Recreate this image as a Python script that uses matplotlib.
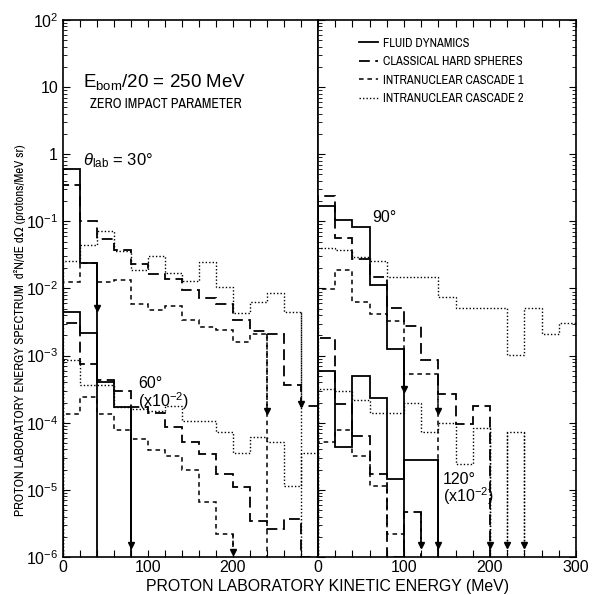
import numpy as np
import matplotlib
matplotlib.use("Agg")
import matplotlib.pyplot as plt
from matplotlib import font_manager as fm

# bin width of all the histograms (MeV)
bin_w = 20

# ---- theta_lab = 30 deg (left panel, upper group)
fluid_30 = [0.60, 0.024]
hs_30 = [0.345, 0.100, 0.055, 0.037, 0.023, 0.0164, 0.0139, 0.0094, 0.0072,
         0.0058, 0.0034, 0.0023, 0.0021, 3.6e-4, 1.8e-4]
inc1_30 = [0.0123, 0.024, 0.0125, 0.0135, 0.0059, 0.0047, 0.0055, 0.0034,
           0.0027, 0.0024, 0.0016, 0.0021]
inc2_30 = [0.026, 0.044, 0.073, 0.036, 0.019, 0.030, 0.017, 0.013, 0.025,
           0.0107, 0.0043, 0.0062, 0.0085, 0.0044]

# ---- theta_lab = 60 deg (x 1e-2)
fluid_60 = [0.0044, 0.0022, 4.0e-4, 1.7e-4]
hs_60 = [0.0031, 7.5e-4, 4.3e-4, 3.0e-4, 1.74e-4, 1.4e-4, 8.5e-5, 5.2e-5,
         3.4e-5, 1.7e-5, 1.1e-5, 3.4e-6, 2.6e-6, 3.7e-6, 1e-6]
inc1_60 = [1.35e-4, 2.45e-4, 1.35e-4, 7.8e-5, 5.8e-5, 3.9e-5, 3.2e-5, 1.95e-5,
           6.5e-6, 2.2e-6]
inc2_60 = [8.7e-4, 3.7e-4, 3.6e-4, 1.7e-4, 1.6e-4, 1.5e-4, 1.8e-4, 1.05e-4,
           1.05e-4, 7.2e-5, 3.6e-5, 6.2e-5, 5.1e-5, 1.15e-5, 3.6e-5]

# ---- theta_lab = 90 deg (right panel, upper group)
fluid_90 = [0.17, 0.105, 0.083, 0.0114, 0.00126]
hs_90 = [0.235, 0.057, 0.0276, 0.0147, 0.0051, 0.0028, 8.6e-4, 2.7e-4,
         9.6e-5, 1.76e-4]
inc1_90 = [0.0098, 0.019, 0.0062, 0.0042, 0.0033, 5.3e-4, 5.3e-4]
inc2_90 = [0.040, 0.0375, 0.029, 0.026, 0.0147, 0.0147, 0.0147, 0.0074,
           0.0052, 0.0052, 0.0052, 0.00103, 0.0051, 0.0021, 0.0031]

# ---- theta_lab = 120 deg (x 1e-2)
fluid_120 = [5.8e-4, 4.4e-5, 4.9e-4, 2.3e-4, 1.45e-5, 2.8e-5, 2.8e-5]
hs_120 = [1.8e-3, 1.9e-4, 6.3e-5, 1.7e-5, 1e-6, 4.6e-6]
inc1_120 = [5.1e-5, 7.8e-5, 3.2e-5, 1.15e-5, 2.2e-6]
inc2_120 = [3.2e-4, 3.0e-4, 2.2e-4, 1.4e-4, 1.4e-4, 2.0e-4, 7.4e-5, 9.8e-5,
            2.4e-5, 8.3e-5]
inc2_120_tail = [7.2e-5]   # lone bin 220-240 MeV

# downward arrows (upper limits): energy, from value, to value
arrows_left = [
    (40, 0.024, 0.0052, "fluid"),
    (240, 0.0021, 1.5e-4, "inc1"),
    (280, 0.0044, 1.9e-4, "inc2"),
    (80, 1.7e-4, 1.5e-6, "fluid"),
    (200, 2.2e-6, 1.2e-6, "inc1"),
]
arrows_right = [
    (100, 0.00126, 3.2e-4, "fluid"),
    (140, 5.3e-4, 1.5e-4, "inc1"),
    (140, 2.8e-5, 1.5e-6, "fluid"),
    (120, 4.6e-6, 1.5e-6, "hs"),
    (200, 8.3e-5, 1.5e-6, "inc2"),
    (220, 7.2e-5, 1.5e-6, "inc2"),
    (240, 7.2e-5, 1.5e-6, "inc2"),
]

labels = ["FLUID DYNAMICS", "CLASSICAL HARD SPHERES",
          "INTRANUCLEAR CASCADE 1", "INTRANUCLEAR CASCADE 2"]

styles = {
    "fluid": dict(linestyle="-", lw=1.3),
    "hs": dict(linestyle=(0, (6, 3)), lw=1.3),
    "inc1": dict(linestyle=(0, (3, 2.5)), lw=1.1),
    "inc2": dict(linestyle=(0, (1, 1.5)), lw=1.0),
}

plt.rcParams["font.family"] = ["Liberation Sans", "DejaVu Sans"]
plt.rcParams["mathtext.fontset"] = "custom"
plt.rcParams["mathtext.rm"] = "Liberation Sans"
plt.rcParams["mathtext.it"] = "Liberation Sans:italic"


# a condensed face for the stencil-like labels, if the system has one
def narrow_font():
    for f in fm.fontManager.ttflist:
        if "Narrow" in f.name or "Condensed" in f.name:
            return dict(family=[f.name, "DejaVu Sans"]), 1.0
    for f in fm.fontManager.ttflist:
        if f.stretch in ("condensed", "semi-condensed", "extra-condensed"):
            return dict(family=[f.name, "DejaVu Sans"], stretch=f.stretch), 1.0
    return dict(family=["Liberation Sans", "DejaVu Sans"]), 0.8


narrow, nscale = narrow_font()


def steps(ax, vals, kind, start=0):
    edges = start + bin_w * np.arange(len(vals) + 1)
    ax.stairs(vals, edges, color="k", **styles[kind])


def arrow(ax, x, y0, y1, kind):
    ax.plot([x, x], [y0, y1], color="k", **styles[kind])
    ax.plot(x, y1, marker="v", color="k", ms=4.5, ls="none")


fig = plt.figure(figsize=(5.93, 5.95), dpi=100)
ax1 = fig.add_axes([0.1062, 0.0639, 0.4300, 0.9025])
ax2 = fig.add_axes([0.5362, 0.0639, 0.4351, 0.9025])

for ax, sets in [(ax1, [(fluid_30, "fluid"), (hs_30, "hs"), (inc1_30, "inc1"),
                        (inc2_30, "inc2"), (fluid_60, "fluid"), (hs_60, "hs"),
                        (inc1_60, "inc1"), (inc2_60, "inc2")]),
                 (ax2, [(fluid_90, "fluid"), (hs_90, "hs"), (inc1_90, "inc1"),
                        (inc2_90, "inc2"), (fluid_120, "fluid"), (hs_120, "hs"),
                        (inc1_120, "inc1"), (inc2_120, "inc2")])]:
    for vals, kind in sets:
        steps(ax, vals, kind)
steps(ax2, inc2_120_tail, "inc2", start=220)

for x, y0, y1, kind in arrows_left:
    arrow(ax1, x, y0, y1, kind)
for x, y0, y1, kind in arrows_right:
    arrow(ax2, x, y0, y1, kind)

ytick_vals = [1e2, 1e1, 1e0, 1e-1, 1e-2, 1e-3, 1e-4, 1e-5, 1e-6]
ytick_txt = ["10$^2$", "10", "1", "10$^{-1}$", "10$^{-2}$", "10$^{-3}$",
             "10$^{-4}$", "10$^{-5}$", "10$^{-6}$"]
xt = np.arange(0, 301, 20)

for ax in (ax1, ax2):
    ax.set_yscale("log")
    ax.set_ylim(1e-6, 1e2)
    ax.set_xlim(0, 300)
    ax.set_yticks(ytick_vals)
    ax.tick_params(which="both", direction="in", top=True, labelsize=11.5)
    ax.tick_params(which="major", length=5)
    ax.tick_params(which="minor", length=3)
    ax.tick_params(axis="x", pad=2)
    for s in ax.spines.values():
        s.set_linewidth(1.2)

ax1.set_yticklabels(ytick_txt)
ax1.tick_params(which="both", right=False)
ax1.set_xticks(xt)
ax1.set_xticklabels([str(t) if t % 100 == 0 and t < 300 else "" for t in xt])

ax2.set_yticklabels([])
ax2.tick_params(which="both", left=True, right=True)
ax2.set_xticks(xt)
ax2.set_xticklabels([str(t) if t % 100 == 0 else "" for t in xt])

# annotations
ax1.text(0.078, 0.875, r"E$_{\rm bom}$/20 = 250 MeV", transform=ax1.transAxes,
         fontsize=13.5, va="baseline")
ax1.text(0.106, 0.836, "ZERO IMPACT PARAMETER", transform=ax1.transAxes,
         fontsize=10 * nscale, va="baseline", weight="bold", **narrow)
ax1.text(0.078, 0.730, r"$\theta_{\rm lab}$ = 30°", transform=ax1.transAxes,
         fontsize=12, va="baseline")
ax1.text(0.294, 0.280, "60°\n(x10$^{-2}$)", transform=ax1.transAxes,
         fontsize=11.5, va="baseline", linespacing=0.92)
ax2.text(0.209, 0.624, "90°", transform=ax2.transAxes, fontsize=11.5, va="baseline")
ax2.text(0.484, 0.102, "120°\n(x10$^{-2}$)", transform=ax2.transAxes,
         fontsize=11.5, va="baseline", linespacing=0.92)

handles = [plt.Line2D([], [], color="k", **styles[k])
           for k in ("fluid", "hs", "inc1", "inc2")]
lp = dict(size=9 * nscale, weight="bold")
lp.update(narrow)
ax2.legend(handles, labels, loc="upper left", bbox_to_anchor=(0.115, 0.988),
           frameon=False, handlelength=1.5, handletextpad=0.4,
           labelspacing=0.6, prop=lp)

fig.text(0.034, 1 - 330 / 595,
         "PROTON LABORATORY ENERGY SPECTRUM  d²N/dE dΩ (protons/MeV sr)",
         rotation=90, ha="center", va="center", fontsize=9.4 * nscale, **narrow)
fig.text(0.552, 0.006, "PROTON LABORATORY KINETIC ENERGY (MeV)",
         ha="center", va="baseline", fontsize=11.4)

fig.savefig("out.png", dpi=100)
